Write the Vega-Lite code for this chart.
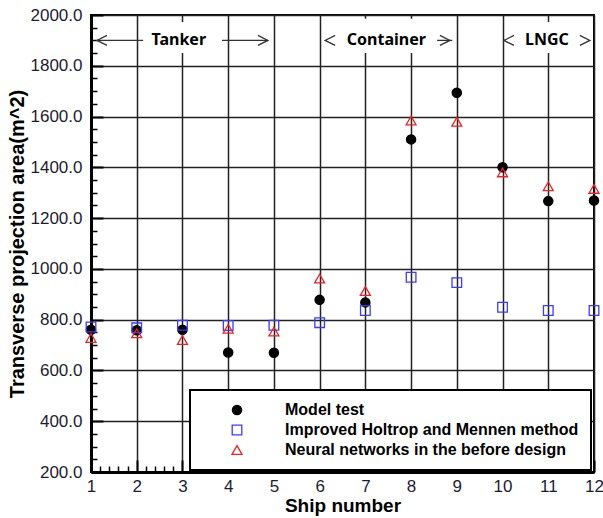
{
  "$schema": "https://vega.github.io/schema/vega-lite/v6.json",
  "width": 503,
  "height": 457,
  "autosize": {"type": "none"},
  "padding": {"left": 91, "top": 15, "right": 9, "bottom": 46},
  "background": "white",
  "config": {
    "view": {"stroke": "#000", "strokeWidth": 2},
    "font": "Liberation Sans",
    "axis": {
      "domainColor": "#000",
      "domainWidth": 3,
      "gridColor": "#222222",
      "gridWidth": 1.5,
      "tickColor": "#000",
      "labelFont": "Liberation Sans",
      "labelFontSize": 17,
      "labelColor": "#1c1c30",
      "labelOverlap": false,
      "labelFlush": false,
      "labelBound": false,
      "titleFont": "Liberation Sans",
      "titleFontWeight": "bold",
      "titleColor": "#000"
    },
    "legend": {
      "strokeWidth": 2
    }
  },
  "layer": [
    {
      "data": {
        "values": [
          {"ship": 1, "series": "Model test", "area": 760},
          {"ship": 2, "series": "Model test", "area": 758},
          {"ship": 3, "series": "Model test", "area": 760},
          {"ship": 4, "series": "Model test", "area": 671},
          {"ship": 5, "series": "Model test", "area": 670},
          {"ship": 6, "series": "Model test", "area": 878},
          {"ship": 7, "series": "Model test", "area": 868},
          {"ship": 8, "series": "Model test", "area": 1510},
          {"ship": 9, "series": "Model test", "area": 1694},
          {"ship": 10, "series": "Model test", "area": 1400},
          {"ship": 11, "series": "Model test", "area": 1267},
          {"ship": 12, "series": "Model test", "area": 1269},
          {"ship": 1, "series": "Improved Holtrop and Mennen method", "area": 771},
          {"ship": 2, "series": "Improved Holtrop and Mennen method", "area": 768},
          {"ship": 3, "series": "Improved Holtrop and Mennen method", "area": 778},
          {"ship": 4, "series": "Improved Holtrop and Mennen method", "area": 777},
          {"ship": 5, "series": "Improved Holtrop and Mennen method", "area": 778},
          {"ship": 6, "series": "Improved Holtrop and Mennen method", "area": 788},
          {"ship": 7, "series": "Improved Holtrop and Mennen method", "area": 836},
          {"ship": 8, "series": "Improved Holtrop and Mennen method", "area": 967},
          {"ship": 9, "series": "Improved Holtrop and Mennen method", "area": 946},
          {"ship": 10, "series": "Improved Holtrop and Mennen method", "area": 849},
          {"ship": 11, "series": "Improved Holtrop and Mennen method", "area": 836},
          {"ship": 12, "series": "Improved Holtrop and Mennen method", "area": 836},
          {"ship": 1, "series": "Neural networks in the before design", "area": 728},
          {"ship": 2, "series": "Neural networks in the before design", "area": 746},
          {"ship": 3, "series": "Neural networks in the before design", "area": 720},
          {"ship": 4, "series": "Neural networks in the before design", "area": 764},
          {"ship": 5, "series": "Neural networks in the before design", "area": 753},
          {"ship": 6, "series": "Neural networks in the before design", "area": 962},
          {"ship": 7, "series": "Neural networks in the before design", "area": 913},
          {"ship": 8, "series": "Neural networks in the before design", "area": 1584},
          {"ship": 9, "series": "Neural networks in the before design", "area": 1579},
          {"ship": 10, "series": "Neural networks in the before design", "area": 1380},
          {"ship": 11, "series": "Neural networks in the before design", "area": 1325},
          {"ship": 12, "series": "Neural networks in the before design", "area": 1315}
        ]
      },
      "mark": {"type": "point", "strokeWidth": 1.3, "opacity": 1},
      "encoding": {
        "x": {
          "field": "ship",
          "type": "quantitative",
          "scale": {"domain": [1, 12], "nice": false, "zero": false},
          "axis": {
            "title": "Ship number",
            "titleFontSize": 19,
            "titlePadding": -4,
            "tickCount": 100,
            "values": [1, 1.2, 1.4, 1.6, 1.8, 2, 2.2, 2.4, 2.6, 2.8, 3, 3.2, 3.4, 3.6, 3.8, 4, 4.2, 4.4, 4.6, 4.8, 5, 5.2, 5.4, 5.6, 5.8, 6, 6.2, 6.4, 6.6, 6.8, 7, 7.2, 7.4, 7.6, 7.8, 8, 8.2, 8.4, 8.6, 8.8, 9, 9.2, 9.4, 9.6, 9.8, 10, 10.2, 10.4, 10.6, 10.8, 11, 11.2, 11.4, 11.6, 11.8, 12],
            "labelExpr": "abs(datum.value - round(datum.value)) < 0.01 ? format(round(datum.value), 'd') : ''",
            "tickSize": {"condition": {"test": "abs(datum.value - round(datum.value)) < 0.01", "value": -12}, "value": -6},
            "tickWidth": {"condition": {"test": "abs(datum.value - round(datum.value)) < 0.01", "value": 2}, "value": 1.5},
            "gridOpacity": {"condition": {"test": "abs(datum.value - round(datum.value)) < 0.01", "value": 1}, "value": 0},
            "labelPadding": 18
          }
        },
        "y": {
          "field": "area",
          "type": "quantitative",
          "scale": {"domain": [200, 2000], "nice": false, "zero": false},
          "axis": {
            "title": "Transverse projection area(m^2)",
            "titleFontSize": 20,
            "titlePadding": 3,
            "tickCount": 100,
            "values": [200, 250, 300, 350, 400, 450, 500, 550, 600, 650, 700, 750, 800, 850, 900, 950, 1000, 1050, 1100, 1150, 1200, 1250, 1300, 1350, 1400, 1450, 1500, 1550, 1600, 1650, 1700, 1750, 1800, 1850, 1900, 1950, 2000],
            "labelExpr": "datum.value % 200 === 0 ? format(datum.value, '.1f') : ''",
            "tickSize": {"condition": {"test": "datum.value % 200 === 0", "value": -12}, "value": -6},
            "tickWidth": {"condition": {"test": "datum.value % 200 === 0", "value": 2}, "value": 1.5},
            "gridOpacity": {"condition": {"test": "datum.value % 200 === 0", "value": 1}, "value": 0},
            "labelPadding": 21
          }
        },
        "shape": {
          "field": "series",
          "type": "nominal",
          "scale": {
            "domain": ["Model test", "Improved Holtrop and Mennen method", "Neural networks in the before design"],
            "range": ["circle", "square", "triangle-up"]
          },
          "legend": {
            "title": null,
            "orient": "none",
            "legendX": 99,
            "legendY": 375,
            "direction": "vertical",
            "fillColor": "white",
            "strokeColor": "#000",
            "padding": 12,
            "symbolOffset": 27,
            "labelOffset": 40,
            "labelLimit": 420,
            "labelFont": "Liberation Sans",
            "labelFontWeight": "bold",
            "labelFontSize": 16,
            "labelColor": "#000",
            "rowPadding": 4,
            "symbolStrokeWidth": 1.3
          }
        },
        "stroke": {
          "field": "series",
          "type": "nominal",
          "scale": {
            "domain": ["Model test", "Improved Holtrop and Mennen method", "Neural networks in the before design"],
            "range": ["#000000", "#3b3bff", "#ee2222"]
          },
          "legend": {"title": null}
        },
        "fill": {
          "field": "series",
          "type": "nominal",
          "scale": {
            "domain": ["Model test", "Improved Holtrop and Mennen method", "Neural networks in the before design"],
            "range": ["#000000", "transparent", "transparent"]
          },
          "legend": {"title": null}
        },
        "size": {
          "field": "series",
          "type": "nominal",
          "scale": {
            "domain": ["Model test", "Improved Holtrop and Mennen method", "Neural networks in the before design"],
            "range": [85, 100, 320]
          },
          "legend": {"title": null}
        }
      }
    },
    {
      "data": {
        "values": [
          {"label": "Tanker", "from": 2.38, "to": 3.48, "lo": 1850, "hi": 1972},
          {"label": "Container", "from": 6.6, "to": 8.3, "lo": 1850, "hi": 1985},
          {"label": "LNGC", "from": 10.5, "to": 11.5, "lo": 1850, "hi": 1972}
        ]
      },
      "mark": {"type": "rect", "fill": "white", "stroke": null},
      "encoding": {
        "x": {"field": "from", "type": "quantitative", "scale": {"domain": [1, 12], "nice": false, "zero": false}},
        "x2": {"field": "to"},
        "y": {"field": "lo", "type": "quantitative", "scale": {"domain": [200, 2000], "nice": false, "zero": false}},
        "y2": {"field": "hi"}
      }
    },
    {
      "data": {
        "values": [
          {"label": "Tanker", "ship": 2.92, "v": 1900},
          {"label": "Container", "ship": 7.46, "v": 1900},
          {"label": "LNGC", "ship": 10.97, "v": 1900}
        ]
      },
      "mark": {"type": "text", "font": "Noto Sans", "fontWeight": "bold", "fontSize": 16, "color": "#000", "align": "center", "baseline": "middle"},
      "encoding": {
        "x": {"field": "ship", "type": "quantitative", "scale": {"domain": [1, 12], "nice": false, "zero": false}},
        "y": {"field": "v", "type": "quantitative", "scale": {"domain": [200, 2000], "nice": false, "zero": false}},
        "text": {"field": "label"}
      }
    },
    {
      "data": {
        "values": [
          {"from": 1.13, "to": 2.14, "v": 1900},
          {"from": 3.865, "to": 4.87, "v": 1900},
          {"from": 8.57, "to": 8.9, "v": 1900}
        ]
      },
      "mark": {"type": "rule", "color": "#333", "strokeWidth": 1.3},
      "encoding": {
        "x": {"field": "from", "type": "quantitative", "scale": {"domain": [1, 12], "nice": false, "zero": false}},
        "x2": {"field": "to"},
        "y": {"field": "v", "type": "quantitative", "scale": {"domain": [200, 2000], "nice": false, "zero": false}}
      }
    },
    {
      "data": {
        "values": [
          {"ship": 1.24, "v": 1900},
          {"ship": 6.23, "v": 1900},
          {"ship": 10.14, "v": 1900}
        ]
      },
      "mark": {"type": "point", "shape": "M 1 -1 L -1 0 L 1 1", "filled": false, "color": "#333", "strokeWidth": 1.3, "size": 100, "opacity": 1},
      "encoding": {
        "x": {"field": "ship", "type": "quantitative", "scale": {"domain": [1, 12], "nice": false, "zero": false}},
        "y": {"field": "v", "type": "quantitative", "scale": {"domain": [200, 2000], "nice": false, "zero": false}}
      }
    },
    {
      "data": {
        "values": [
          {"ship": 4.76, "v": 1900},
          {"ship": 8.74, "v": 1900},
          {"ship": 11.8, "v": 1900}
        ]
      },
      "mark": {"type": "point", "shape": "M -1 -1 L 1 0 L -1 1", "filled": false, "color": "#333", "strokeWidth": 1.3, "size": 100, "opacity": 1},
      "encoding": {
        "x": {"field": "ship", "type": "quantitative", "scale": {"domain": [1, 12], "nice": false, "zero": false}},
        "y": {"field": "v", "type": "quantitative", "scale": {"domain": [200, 2000], "nice": false, "zero": false}}
      }
    }
  ]
}
